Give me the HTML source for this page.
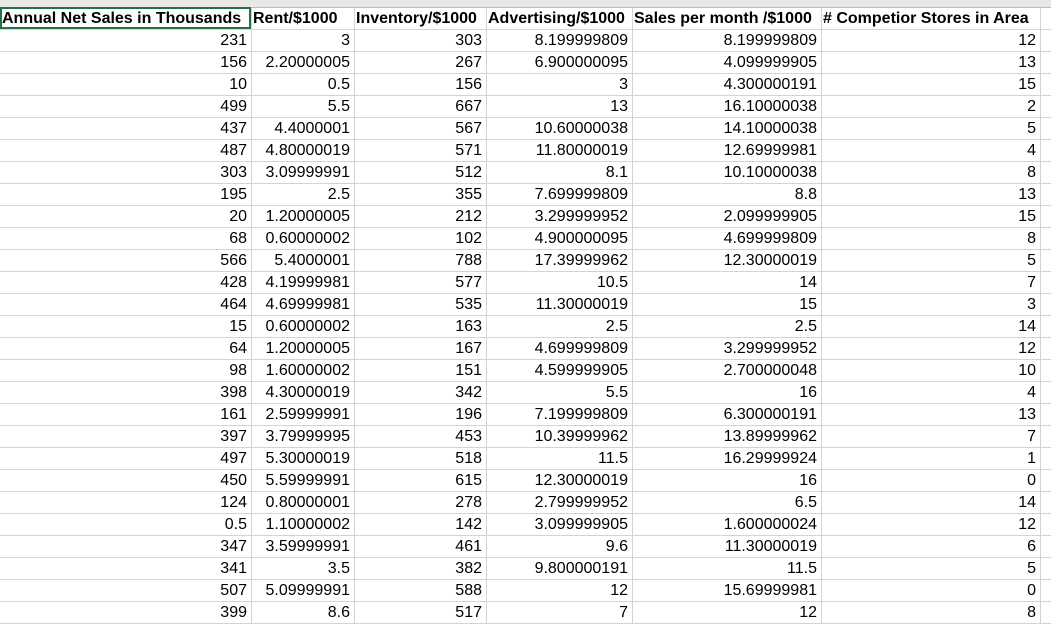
<!DOCTYPE html>
<html><head><style>
body{margin:0;width:1051px;height:627px;overflow:hidden;background:#fff;font-family:"Liberation Sans",Arial,sans-serif;font-size:16px;color:#000;position:relative}
#top{position:absolute;left:0;top:0;width:1051px;height:7px;background:#e8e8e8;border-bottom:1px solid #bdbdbd}
#grid{position:absolute;left:0;top:29px;width:1051px;height:595px;background:repeating-linear-gradient(to bottom,#d4d4d4 0,#d4d4d4 1px,transparent 1px,transparent 22px)}
.v{position:absolute;top:8px;width:1px;height:616px;background:#d4d4d4}
#sheet{position:absolute;left:0;top:8px}
.r{display:flex;height:22px;line-height:22px}
.r span{display:block;box-sizing:border-box;text-align:right;padding-right:4px;white-space:nowrap;overflow:hidden}
.r span:nth-child(1){width:251px}.r span:nth-child(2){width:103px}.r span:nth-child(3){width:132px}
.r span:nth-child(4){width:146px}.r span:nth-child(5){width:189px}.r span:nth-child(6){width:219px}
.h span{font-weight:bold;text-align:left;padding-left:2px;padding-right:0}
#sel{position:absolute;left:0;top:7px;width:251px;height:22px;box-sizing:border-box;border:2px solid #217346}
</style></head><body>
<div id="top"></div>
<div id="grid"></div>
<div class="v" style="left:251px"></div><div class="v" style="left:354px"></div><div class="v" style="left:486px"></div><div class="v" style="left:632px"></div><div class="v" style="left:821px"></div><div class="v" style="left:1040px"></div>
<div id="sheet">
<div class="r h"><span>Annual Net Sales in Thousands</span><span>Rent/$1000</span><span>Inventory/$1000</span><span>Advertising/$1000</span><span>Sales per month /$1000</span><span># Competior Stores in Area</span></div>
<div class="r"><span>231</span><span>3</span><span>303</span><span>8.199999809</span><span>8.199999809</span><span>12</span></div>
<div class="r"><span>156</span><span>2.20000005</span><span>267</span><span>6.900000095</span><span>4.099999905</span><span>13</span></div>
<div class="r"><span>10</span><span>0.5</span><span>156</span><span>3</span><span>4.300000191</span><span>15</span></div>
<div class="r"><span>499</span><span>5.5</span><span>667</span><span>13</span><span>16.10000038</span><span>2</span></div>
<div class="r"><span>437</span><span>4.4000001</span><span>567</span><span>10.60000038</span><span>14.10000038</span><span>5</span></div>
<div class="r"><span>487</span><span>4.80000019</span><span>571</span><span>11.80000019</span><span>12.69999981</span><span>4</span></div>
<div class="r"><span>303</span><span>3.09999991</span><span>512</span><span>8.1</span><span>10.10000038</span><span>8</span></div>
<div class="r"><span>195</span><span>2.5</span><span>355</span><span>7.699999809</span><span>8.8</span><span>13</span></div>
<div class="r"><span>20</span><span>1.20000005</span><span>212</span><span>3.299999952</span><span>2.099999905</span><span>15</span></div>
<div class="r"><span>68</span><span>0.60000002</span><span>102</span><span>4.900000095</span><span>4.699999809</span><span>8</span></div>
<div class="r"><span>566</span><span>5.4000001</span><span>788</span><span>17.39999962</span><span>12.30000019</span><span>5</span></div>
<div class="r"><span>428</span><span>4.19999981</span><span>577</span><span>10.5</span><span>14</span><span>7</span></div>
<div class="r"><span>464</span><span>4.69999981</span><span>535</span><span>11.30000019</span><span>15</span><span>3</span></div>
<div class="r"><span>15</span><span>0.60000002</span><span>163</span><span>2.5</span><span>2.5</span><span>14</span></div>
<div class="r"><span>64</span><span>1.20000005</span><span>167</span><span>4.699999809</span><span>3.299999952</span><span>12</span></div>
<div class="r"><span>98</span><span>1.60000002</span><span>151</span><span>4.599999905</span><span>2.700000048</span><span>10</span></div>
<div class="r"><span>398</span><span>4.30000019</span><span>342</span><span>5.5</span><span>16</span><span>4</span></div>
<div class="r"><span>161</span><span>2.59999991</span><span>196</span><span>7.199999809</span><span>6.300000191</span><span>13</span></div>
<div class="r"><span>397</span><span>3.79999995</span><span>453</span><span>10.39999962</span><span>13.89999962</span><span>7</span></div>
<div class="r"><span>497</span><span>5.30000019</span><span>518</span><span>11.5</span><span>16.29999924</span><span>1</span></div>
<div class="r"><span>450</span><span>5.59999991</span><span>615</span><span>12.30000019</span><span>16</span><span>0</span></div>
<div class="r"><span>124</span><span>0.80000001</span><span>278</span><span>2.799999952</span><span>6.5</span><span>14</span></div>
<div class="r"><span>0.5</span><span>1.10000002</span><span>142</span><span>3.099999905</span><span>1.600000024</span><span>12</span></div>
<div class="r"><span>347</span><span>3.59999991</span><span>461</span><span>9.6</span><span>11.30000019</span><span>6</span></div>
<div class="r"><span>341</span><span>3.5</span><span>382</span><span>9.800000191</span><span>11.5</span><span>5</span></div>
<div class="r"><span>507</span><span>5.09999991</span><span>588</span><span>12</span><span>15.69999981</span><span>0</span></div>
<div class="r"><span>399</span><span>8.6</span><span>517</span><span>7</span><span>12</span><span>8</span></div>
</div>
<div id="sel"></div>
</body></html>
